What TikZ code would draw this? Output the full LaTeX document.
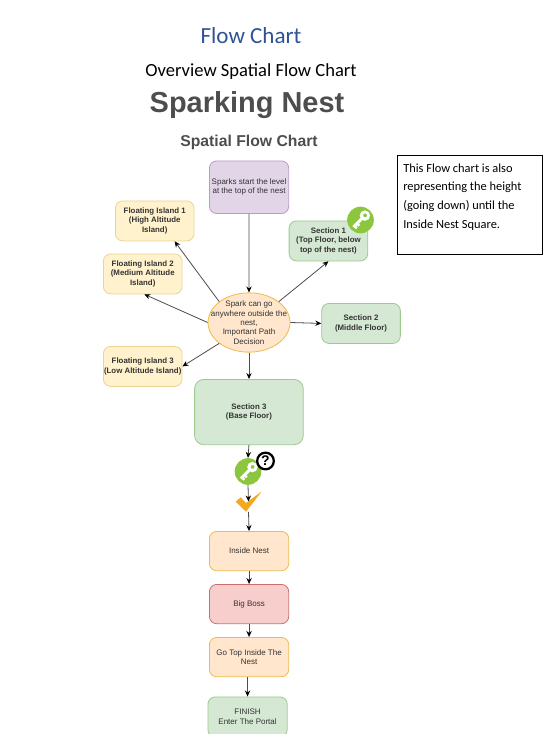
\documentclass[tikz,border=0pt]{standalone}
\usepackage{fontspec}
\setmainfont{Liberation Sans}
\newfontfamily\carl{Carlito}
\usetikzlibrary{shapes.geometric,calc,arrows.meta}
\definecolor{txt}{HTML}{333333}
\definecolor{titleblue}{HTML}{2F5496}
\definecolor{headgray}{HTML}{4D4D4D}
\definecolor{keygreen}{HTML}{8CC63F}
\definecolor{chk}{HTML}{F5A81C}
\definecolor{violetfill}{HTML}{E1D5E7}\definecolor{violetdraw}{HTML}{B99BC6}
\definecolor{yellowfill}{HTML}{FFF2CC}\definecolor{yellowdraw}{HTML}{EBD48F}
\definecolor{greenfill}{HTML}{D5E8D4}\definecolor{greendraw}{HTML}{9CCB8C}
\definecolor{orangefill}{HTML}{FFE6CC}\definecolor{orangedraw}{HTML}{EDBB4A}
\definecolor{redfill}{HTML}{F8CECC}\definecolor{reddraw}{HTML}{C9706C}
\tikzset{
 base/.style={draw,rounded corners=5.5pt,line width=0.6pt,inner sep=0pt,align=center,text=txt,font=\fontsize{6}{7}\selectfont,anchor=north west},
 purplebox/.style={base,fill=violetfill,draw=violetdraw},
 yellowbox/.style={base,fill=yellowfill,draw=yellowdraw,font=\fontsize{5.9}{7}\selectfont\bfseries},
 greenbox/.style={base,fill=greenfill,draw=greendraw},
 greenbold/.style={greenbox,font=\fontsize{5.9}{7}\selectfont\bfseries},
 orangebox/.style={base,fill=orangefill,draw=orangedraw},
 redbox/.style={base,fill=redfill,draw=reddraw},
 arr/.style={draw=black!70,line width=0.6pt,-{Stealth[length=4.5pt,width=4pt,black]}},
}
\newcommand{\keyicon}[1]{%
 \begin{scope}[shift={(#1)}]
 \fill[white,even odd rule] (4.4,-4.4) circle (5.2) (4.6,-4.6) circle (2);
 \draw[white,line width=2.2pt] (1,-1) -- (-7,7);
 \draw[white,line width=1.6pt] (-3.5,3.5) -- (-1.2,5.8) (-6,6) -- (-3.7,8.3);
 \end{scope}}
\begin{document}
\begin{tikzpicture}[x=0.75pt,y=-0.75pt]
\useasboundingbox (0,0) rectangle (559,740);
\node[text=titleblue,font=\carl\fontsize{17.3}{18}\selectfont,inner sep=0pt] (t1) at (251,35.5) {Flow Chart};
\node[text=black,font=\carl\fontsize{13.9}{15}\selectfont,inner sep=0pt] (t2) at (251,72) {Overview Spatial Flow Chart};
\node[text=headgray,font=\fontsize{21.7}{24}\selectfont\bfseries,inner sep=0pt] (t3) at (247,105) {Sparking Nest};
\node[text=headgray,font=\fontsize{11.8}{14}\selectfont\bfseries,inner sep=0pt] (t4) at (249,142) {Spatial Flow Chart};

\node[purplebox,minimum width=59.5pt,minimum height=39.5pt] (start) at (209,160.5) {Sparks start the level\\at the top of the nest};
\node[yellowbox,minimum width=59pt,minimum height=30pt] (f1) at (115,200.5) {Floating Island 1\\(High Altitude\\Island)};
\node[yellowbox,minimum width=59pt,minimum height=30pt] (f2) at (103,253.5) {Floating Island 2\\(Medium Altitude\\Island)};
\node[yellowbox,minimum width=59pt,minimum height=30pt] (f3) at (103,346) {Floating Island 3\\(Low Altitude Island)};
\node[greenbold,minimum width=59pt,minimum height=30pt] (s1) at (288.7,220.5) {Section 1\\(Top Floor, below\\top of the nest)};
\node[greenbold,minimum width=59pt,minimum height=30pt] (s2) at (321.3,303) {Section 2\\(Middle Floor)};
\node[ellipse,draw=orangedraw,fill=orangefill,line width=0.6pt,minimum width=61.5pt,minimum height=44.5pt,inner xsep=-8pt,inner ysep=-2pt,align=center,text=txt,font=\fontsize{6}{7}\selectfont] (e) at (249,322.5) {Spark can go\\anywhere outside the\\nest,\\Important Path\\Decision};
\node[greenbold,rounded corners=7pt,minimum width=81.5pt,minimum height=49pt] (s3) at (194.2,379) {Section 3\\(Base Floor)};
\node[orangebox,minimum width=59.5pt,minimum height=29.5pt] (inside) at (209,531) {Inside Nest};
\node[redbox,minimum width=59.5pt,minimum height=29.5pt] (boss) at (209,584) {Big Boss};
\node[orangebox,minimum width=59.5pt,minimum height=29.5pt] (top) at (209,637) {Go Top Inside The\\Nest};
\begin{scope}
\clip (0,0) rectangle (559,733);
\node[greenbox,minimum width=59.5pt,minimum height=30pt] (fin) at (207.5,696.5) {FINISH\\Enter The Portal};
\end{scope}

\node[draw=black,line width=0.6pt,minimum width=109pt,minimum height=74.5pt,inner sep=0pt,anchor=north west] (note) at (396.5,155) {};
\node[anchor=west,inner sep=0pt,text=black,font=\carl\fontsize{9.3}{14}\selectfont,align=left] (notetext) at (403,197) {This Flow chart is also\\representing the height\\(going down) until the\\Inside Nest Square.};

\node[circle,fill=keygreen,minimum size=20pt,inner sep=0pt] (k1) at (360.5,220) {};
\keyicon{k1.center}
\node[circle,fill=keygreen,minimum size=20pt,inner sep=0pt] (k2) at (248,471.5) {};
\keyicon{k2.center}
\node[circle,draw=black,fill=white,line width=1.7pt,minimum size=12.5pt,inner sep=0pt,font=\fontsize{10.5}{11}\selectfont\bfseries,text=black] (q) at (265.5,461) {?};
\node[inner sep=0pt,minimum width=19pt,minimum height=15pt] (check) at (248.5,501.5) {};

\draw[arr] (start) -- (e.north);
\draw[arr] (e.145) -- ($(f1.south west)!0.75!(f1.south east)$);
\draw[arr] (e.west) -- ($(f2.south west)!0.52!(f2.south east)$);
\draw[arr] (e.215) -- (f3.east);
\draw[arr] (e.35) -- (s1.south);
\draw[arr] (e.east) -- (s2.west);
\draw[arr] (e.south) -- (e.south |- s3.north);
\draw[arr] (s3.south) -- (k2.north);
\draw[arr] (k2.south) -- (check.center);
\draw[arr] (check.south) -- (inside.north);
\draw[arr] (inside) -- (boss);
\draw[arr] (boss) -- (top);
\draw[arr] (top.south -| fin.north) -- (fin.north);
\fill[chk] (235.7,501.7) -- (240.7,497.3) -- (245.9,503) -- (261.7,491.5) -- (246,511.7) -- cycle;
\end{tikzpicture}
\end{document}
